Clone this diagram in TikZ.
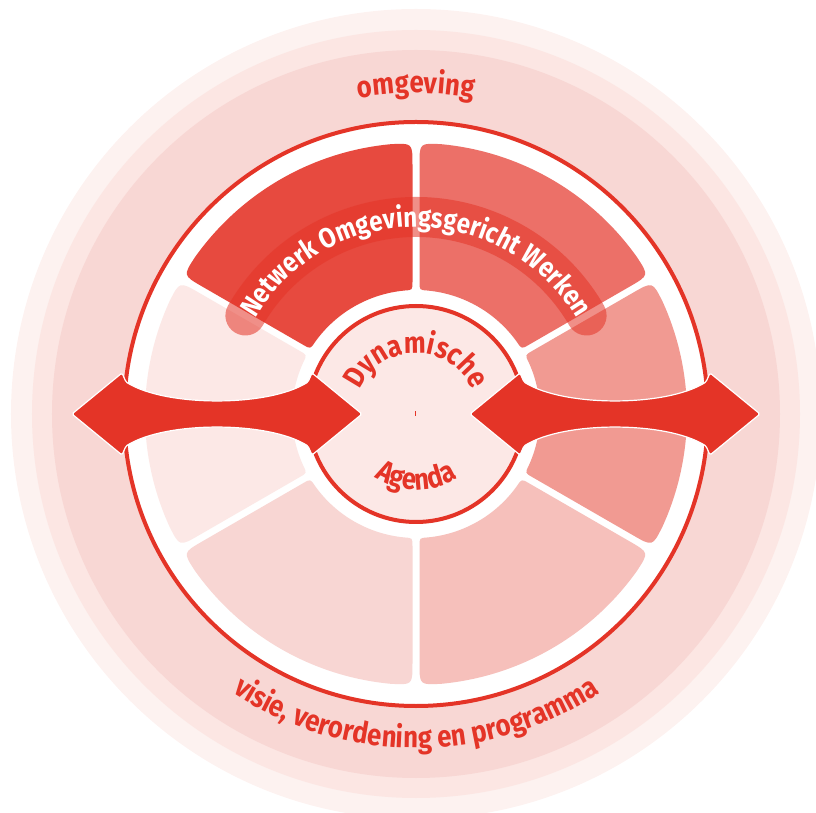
\documentclass[tikz,border=0pt]{standalone}
\usepackage{fontspec}
\newfontfamily\labelfont[FakeStretch=0.86]{Fira Sans}
\usetikzlibrary{calc, decorations.text}

\begin{document}
\begin{tikzpicture}[
    x=1pt, y=1pt,
    font=\labelfont\bfseries,
    arrowbody/.style={fill=mainred, draw=white, line width=1.2pt, rounded corners=1.5pt},
    band/.style={mainred, line width=40pt, line cap=round, opacity=0.55}
]
    % canvas: 816 x 813, centre of the wheel in the origin
    \path[use as bounding box] (-416,-399) rectangle (400,414);

    % ==========================================
    % colours
    % ==========================================
    \definecolor{mainred}{HTML}{E43427}
    \definecolor{haloA}{HTML}{FDF2F0}    % outer halo
    \definecolor{haloB}{HTML}{FCE6E3}
    \definecolor{haloC}{HTML}{F8D7D4}    % omgeving ring
    \definecolor{segNW}{HTML}{E74A3F}
    \definecolor{segNE}{HTML}{EC7068}
    \definecolor{segE}{HTML}{F19A92}
    \definecolor{segSE}{HTML}{F6C0BB}
    \definecolor{segSW}{HTML}{F8D6D3}
    \definecolor{segW}{HTML}{FCE8E6}
    \definecolor{hubfill}{HTML}{FCE8E6}

    \def\lblsize{\labelfont\bfseries\fontsize{30}{30}\selectfont}
    \def\bandsize{\labelfont\bfseries\fontsize{28}{28}\selectfont}
    \def\hubsize{\labelfont\bfseries\fontsize{30}{30}\selectfont}

    % ==========================================
    % rings
    % ==========================================
    \fill[haloA] (0,0) circle[radius=405];
    \fill[haloB] (0,0) circle[radius=384];
    \fill[haloC] (0,0) circle[radius=364];
    \fill[white] (0,0) circle[radius=292];
    \draw[mainred, line width=4pt] (0,0) circle[radius=292];

    % ==========================================
    % six segments (rounded)
    % ==========================================
    \def\rI{124}   % inner radius
    \def\rO{271}   % outer radius
    \def\gap{3.5}  % half width of the white dividers
    \def\rhoI{8}
    \def\rhoO{22}
    \pgfmathsetmacro\dO{asin(\gap/\rO)+\rhoO/\rO*180/pi}
    \pgfmathsetmacro\dI{asin(\gap/\rI)+\rhoI/\rI*180/pi}

    \foreach \a/\b/\c in {30/90/segNE, 90/150/segNW, 150/210/segW,
                          210/270/segSW, 270/330/segSE, -30/30/segE} {
        \fill[\c] ($(\a:\rI+\rhoI)+(\a+90:\gap)$)
            -- ($(\a:\rO-\rhoO)+(\a+90:\gap)$)
            .. controls ($(\a:\rO)+(\a+90:\gap)$) .. ({\a+\dO}:\rO)
            arc[start angle=\a+\dO, end angle=\b-\dO, radius=\rO]
            .. controls ($(\b:\rO)+(\b-90:\gap)$) .. ($(\b:\rO-\rhoO)+(\b-90:\gap)$)
            -- ($(\b:\rI+\rhoI)+(\b-90:\gap)$)
            .. controls ($(\b:\rI)+(\b-90:\gap)$) .. ({\b-\dI}:\rI)
            arc[start angle=\b-\dI, end angle=\a+\dI, radius=\rI]
            .. controls ($(\a:\rI)+(\a+90:\gap)$) .. ($(\a:\rI+\rhoI)+(\a+90:\gap)$)
            -- cycle;
    }

    % ==========================================
    % band: Netwerk Omgevingsgericht Werken
    % ==========================================
    \draw[band] (150:197) arc[start angle=150, end angle=30, radius=197];
    \path[decorate, decoration={text along path, text align=center, text color=white,
          text={|\bandsize|Netwerk Omgevingsgericht Werken}}]
        (155:187) arc[start angle=155, end angle=25, radius=187];

    % ==========================================
    % hub: Dynamische Agenda
    % ==========================================
    \draw[mainred, line width=4pt, fill=hubfill] (0,0) circle[radius=108];
    \draw[mainred, line width=1pt] (-1,-2) -- (-1,3);

    \path[decorate, decoration={text along path, text align=center, text color=mainred,
          text={|\hubsize|Dynamische}}]
        (165:61) arc[start angle=165, end angle=15, radius=61];
    \path[decorate, decoration={text along path, text align=center, text color=mainred,
          text={|\hubsize|Agenda}}]
        (205:76) arc[start angle=205, end angle=335, radius=76];

    % ==========================================
    % double arrows
    % ==========================================
    \foreach \s in {1,-1} {
        \begin{scope}[xscale=\s]
            \filldraw[arrowbody] (-344,0) -- (-294,41) -- (-290,32)
                .. controls (-250,7) and (-148,7) .. (-108,32)
                -- (-104,41) -- (-54,0) -- (-104,-41) -- (-108,-32)
                .. controls (-148,-7) and (-250,-7) .. (-290,-32)
                -- (-294,-41) -- cycle;
        \end{scope}
    }

    % ==========================================
    % outer labels
    % ==========================================
    \path[decorate, decoration={text along path, text align=center, text color=mainred,
          text={|\lblsize|omgeving}}]
        (120:321) arc[start angle=120, end angle=60, radius=321];
    \path[decorate, decoration={text along path, text align=center, text color=mainred,
          text={|\lblsize|visie, verordening en programma}}]
        (215:334) arc[start angle=215, end angle=325, radius=334];

\end{tikzpicture}
\end{document}
